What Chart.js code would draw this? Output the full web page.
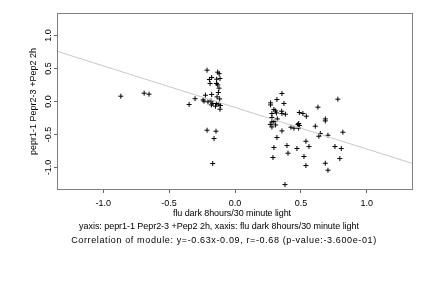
<!DOCTYPE html>
<html>
<head>
    <title>Module correlation scatter</title>
    <script src="https://cdn.jsdelivr.net/npm/chart.js"></script>
    <style>
        body { margin: 0; background: #fff; }
    </style>
</head>
<body>
    <canvas id="corrChart" width="432" height="288"></canvas>

    <script>
        // genes with negative x (left group) and positive x (right group)
        const leftX = [-0.866, -0.689, -0.652, -0.348, -0.303, -0.212, -0.131, -0.120, -0.177, -0.194,
                       -0.139, -0.114, -0.189, -0.141, -0.131, -0.121, -0.126, -0.224, -0.177, -0.136,
                       -0.116, -0.235, -0.205, -0.182, -0.169, -0.141, -0.123, -0.111, -0.148, -0.114,
                       -0.179, -0.212, -0.144, -0.159, -0.169, -0.242];
        const leftY = [0.080, 0.126, 0.111, -0.045, 0.042, 0.474, 0.444, 0.421, 0.364, 0.333,
                       0.338, 0.348, 0.273, 0.273, 0.252, 0.202, 0.136, 0.095, 0.106, 0.070,
                       0.039, 0.005, -0.006, 0.009, -0.030, -0.030, -0.041, -0.061, -0.071, -0.117,
                       -0.052, -0.435, -0.450, -0.561, -0.939, 0.024];
        const rightX = [0.356, 0.780, 0.270, 0.270, 0.318, 0.371, 0.629, 0.295, 0.308, 0.354,
                        0.356, 0.382, 0.280, 0.314, 0.488, 0.515, 0.541, 0.280, 0.321, 0.685,
                        0.685, 0.280, 0.295, 0.268, 0.308, 0.280, 0.477, 0.488, 0.483, 0.424,
                        0.447, 0.483, 0.609, 0.356, 0.647, 0.705, 0.818, 0.318, 0.636, 0.538,
                        0.394, 0.561, 0.295, 0.758, 0.806, 0.470, 0.402, 0.523, 0.288, 0.795,
                        0.685, 0.538, 0.705, 0.379];
        const rightY = [0.121, 0.035, -0.021, -0.052, 0.030, -0.030, -0.086, -0.121, -0.142, -0.147,
                        -0.182, -0.192, -0.182, -0.173, -0.167, -0.182, -0.223, -0.242, -0.264, -0.264,
                        -0.294, -0.309, -0.303, -0.348, -0.355, -0.385, -0.348, -0.364, -0.333, -0.389,
                        -0.405, -0.405, -0.374, -0.445, -0.485, -0.511, -0.465, -0.545, -0.526, -0.602,
                        -0.667, -0.682, -0.697, -0.682, -0.712, -0.712, -0.783, -0.833, -0.848, -0.864,
                        -0.935, -0.970, -1.041, -1.258];

        const xTicks = [-1.0, -0.5, 0.0, 0.5, 1.0];
        const yTicks = [-1.0, -0.5, 0.0, 0.5, 1.0];

        // fit from the caption
        const slope = -0.63;
        const intercept = -0.09;

        const xTitle = "flu dark 8hours/30 minute light";
        const yTitle = "pepr1-1 Pepr2-3 +Pep2 2h";
        const captions = [
            "yaxis: pepr1-1 Pepr2-3 +Pep2 2h, xaxis: flu dark 8hours/30 minute light",
            "Correlation of module: y=-0.63x-0.09, r=-0.68 (p-value:-3.600e-01)"
        ];

        const xMin = -1.35, xMax = 1.35;
        const yMin = -1.34, yMax = 1.34;
        const FONT = '9px "Liberation Sans", Arial, sans-serif';

        const points = leftX.map((x, i) => ({ x: x, y: leftY[i] }))
            .concat(rightX.map((x, i) => ({ x: x, y: rightY[i] })));
        const fitLine = [xMin, xMax].map(x => ({ x: x, y: slope * x + intercept }));

        // stretch/squeeze a line of text to the width it has in the original
        function fillWidth(ctx, text, cx, y, width) {
            ctx.letterSpacing = "0px";
            const w = ctx.measureText(text).width;
            ctx.letterSpacing = ((width - w) / text.length).toFixed(2) + "px";
            ctx.fillText(text, cx, y);
            ctx.letterSpacing = "0px";
        }

        // box, rotated y tick labels and the text under the plot
        const textPlugin = {
            id: "textPlugin",
            afterDraw(chart) {
                const ctx = chart.ctx;
                const area = chart.chartArea;
                const xs = chart.scales.x;
                const ys = chart.scales.y;
                ctx.save();
                ctx.strokeStyle = "#808080";
                ctx.lineWidth = 1;
                ctx.strokeRect(area.left + 0.5, area.top + 0.5, area.right - area.left - 1, area.bottom - area.top - 1);

                ctx.fillStyle = "#000";
                ctx.font = FONT;
                ctx.textAlign = "center";
                ctx.textBaseline = "middle";
                xTicks.forEach(v => {
                    ctx.fillText(v.toFixed(1), xs.getPixelForValue(v), 204);
                });
                yTicks.forEach(v => {
                    ctx.save();
                    ctx.translate(49, ys.getPixelForValue(v));
                    ctx.rotate(-Math.PI / 2);
                    ctx.fillText(v.toFixed(1), 0, 0);
                    ctx.restore();
                });

                ctx.save();
                ctx.translate(34, (area.top + area.bottom) / 2);
                ctx.rotate(-Math.PI / 2);
                ctx.fillText(yTitle, 0, 0);
                ctx.restore();

                fillWidth(ctx, xTitle, 232, 214, 118);
                fillWidth(ctx, captions[0], 219, 227, 280);
                fillWidth(ctx, captions[1], 224, 241, 306);
                ctx.restore();
            }
        };

        const ctx = document.getElementById("corrChart").getContext("2d");
        const corrChart = new Chart(ctx, {
            type: "scatter",
            data: {
                datasets: [
                    {
                        type: "line",
                        data: fitLine,
                        borderColor: "#c8c8c8",
                        borderWidth: 1,
                        pointRadius: 0,
                        fill: false
                    },
                    {
                        data: points,
                        pointStyle: "cross",
                        pointRadius: 2.5,
                        borderColor: "#000",
                        borderWidth: 1
                    }
                ]
            },
            options: {
                responsive: false,
                animation: false,
                layout: { padding: { top: 13, right: 19, left: 0, bottom: 0 } },
                plugins: {
                    legend: { display: false },
                    tooltip: { enabled: false }
                },
                scales: {
                    x: {
                        type: "linear",
                        min: xMin,
                        max: xMax,
                        afterFit(scale) { scale.height = 98; },
                        ticks: { display: false, stepSize: 0.5, includeBounds: false },
                        grid: { drawOnChartArea: false, drawTicks: true, tickLength: 3, color: "#666" },
                        border: { display: false }
                    },
                    y: {
                        type: "linear",
                        min: yMin,
                        max: yMax,
                        afterFit(scale) { scale.width = 57; },
                        ticks: { display: false, stepSize: 0.5, includeBounds: false },
                        grid: { drawOnChartArea: false, drawTicks: true, tickLength: 3, color: "#666" },
                        border: { display: false }
                    }
                }
            },
            plugins: [textPlugin]
        });
    </script>
</body>
</html>
